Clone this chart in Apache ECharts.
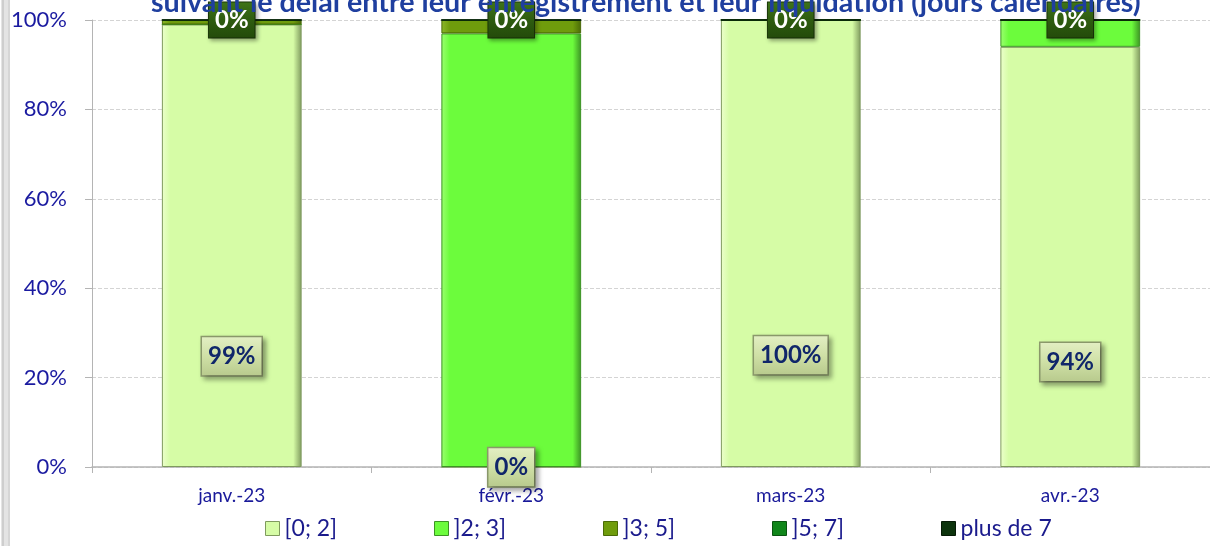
<!DOCTYPE html>
<html>
<head>
<meta charset="utf-8">
<script src="https://cdn.jsdelivr.net/npm/echarts@6/dist/echarts.min.js"></script>
<style>
  html, body { margin: 0; padding: 0; background: #fff; }
  #chart { width: 1210px; height: 546px; }
</style>
</head>
<body>
<div id="chart"></div>
<script>
// données (en %)
const titre = 'suivant le délai entre leur enregistrement et leur liquidation (jours calendaires)';
const mois = ['janv.-23', 'févr.-23', 'mars-23', 'avr.-23'];
const tranches = ['[0; 2]', ']2; 3]', ']3; 5]', ']5; 7]', 'plus de 7'];
const val_0_2 = [99, 0, 100, 94];
const val_2_3 = [0, 97, 0, 6];
const val_3_5 = [1, 3, 0, 0];
const val_5_7 = [0, 0, 0, 0];
const val_plus7 = [0, 0, 0, 0];
const valeurs = [val_0_2, val_2_3, val_3_5, val_5_7, val_plus7];

// couleurs : [corps, bord clair, bord sombre]
const couleurs = [
  ['#d6fca6', '#ecffcc', '#7f9a5e'],
  ['#6cfc3c', '#9cff70', '#3c9424'],
  ['#6f9c0c', '#8cb82a', '#4a6a08'],
  ['#10861a', '#2aa834', '#0a5410'],
  ['#0c330c', '#1d4a1d', '#061a06']
];

const degrade = (c) => new echarts.graphic.LinearGradient(0, 0, 1, 0, [
  { offset: 0, color: c[1] },
  { offset: 0.06, color: c[0] },
  { offset: 0.94, color: c[0] },
  { offset: 1, color: c[2] }
]);

const etiquetteBas = {
  show: true,
  position: ['50%', '75%'],
  align: 'center',
  verticalAlign: 'middle',
  formatter: '{c}%',
  fontFamily: 'Lato',
  fontWeight: 'bold',
  fontSize: 24,
  color: '#10266a',
  backgroundColor: new echarts.graphic.LinearGradient(0, 0, 0, 1, [
    { offset: 0, color: '#e3efc4' },
    { offset: 0.5, color: '#cfe0a6' },
    { offset: 1, color: '#b7c98c' }
  ]),
  borderColor: '#8c9a6c',
  borderWidth: 1.5,
  padding: [8, 6, 6, 6],
  shadowColor: 'rgba(0,0,0,0.35)',
  shadowBlur: 5,
  shadowOffsetX: 3,
  shadowOffsetY: 3
};

const etiquetteHaut = {
  show: true,
  position: 'inside',
  formatter: '{c}%',
  fontFamily: 'Lato',
  fontWeight: 'bold',
  fontSize: 24,
  color: '#ffffff',
  backgroundColor: new echarts.graphic.LinearGradient(0, 0, 0, 1, [
    { offset: 0, color: '#3f7418' },
    { offset: 0.5, color: '#2e5c10' },
    { offset: 1, color: '#234a0a' }
  ]),
  borderColor: '#1c3a08',
  borderWidth: 1,
  padding: [6, 6, 5, 6],
  shadowColor: 'rgba(0,0,0,0.3)',
  shadowBlur: 4,
  shadowOffsetX: 2,
  shadowOffsetY: 2
};

const series = tranches.map((nom, i) => ({
  name: nom,
  type: 'bar',
  stack: 'total',
  barWidth: '50%',
  data: valeurs[i],
  itemStyle: {
    color: degrade(couleurs[i]),
    borderColor: couleurs[i][2],
    borderWidth: 1
  },
  label: i === 0 ? etiquetteBas : (i === tranches.length - 1 ? etiquetteHaut : { show: false }),
  z: i === tranches.length - 1 ? 5 : 2
}));

// une légende par tranche, espacées régulièrement comme dans l'original
const legendes = tranches.map((n, i) => ({
  left: 260 + i * 169,
  bottom: 1,
  itemWidth: 14,
  itemHeight: 14,
  itemGap: 4,
  icon: 'rect',
  textStyle: { fontFamily: 'Lato', fontSize: 23, color: '#1a1a8c' },
  data: [{ name: n, itemStyle: { color: degrade(couleurs[i]), borderColor: couleurs[i][2], borderWidth: 1 } }]
}));

const chart = echarts.init(document.getElementById('chart'), null, { renderer: 'canvas' });
chart.setOption({
  animation: false,
  backgroundColor: '#ffffff',
  title: {
    text: titre,
    left: 146,
    top: -17,
    textStyle: { fontFamily: 'Lato', fontWeight: 'bold', fontSize: 28.7, color: '#1f3f9f' }
  },
  graphic: [
    { type: 'rect', shape: { x: 1, y: 0, width: 9, height: 546 }, style: { fill: '#e4e4e4' } },
    { type: 'line', shape: { x1: 3, y1: 0, x2: 3, y2: 546 }, style: { stroke: '#b8b8b8', lineWidth: 1 } },
    { type: 'line', shape: { x1: 9, y1: 0, x2: 9, y2: 546 }, style: { stroke: '#c8c8c8', lineWidth: 1 } }
  ],
  legend: legendes,
  grid: { left: 92, right: 0, top: 20, bottom: 79, containLabel: false },
  xAxis: {
    type: 'category',
    data: mois,
    axisLine: { lineStyle: { color: '#b4b4b4', width: 1.5 } },
    axisTick: { show: true, length: 6, lineStyle: { color: '#b4b4b4' } },
    axisLabel: { fontFamily: 'Lato', fontSize: 19, color: '#1a1a9a', margin: 19 }
  },
  yAxis: {
    type: 'value',
    min: 0,
    max: 100,
    interval: 20,
    axisLine: { show: true, lineStyle: { color: '#b4b4b4' } },
    axisTick: { show: true, length: 7, lineStyle: { color: '#b4b4b4' } },
    axisLabel: { formatter: '{value}%', fontFamily: 'Lato', fontSize: 22, color: '#1a1aa0', margin: 25 },
    splitLine: { lineStyle: { color: '#d4d4d4', type: 'dashed' } }
  },
  series: series
});
</script>
</body>
</html>
